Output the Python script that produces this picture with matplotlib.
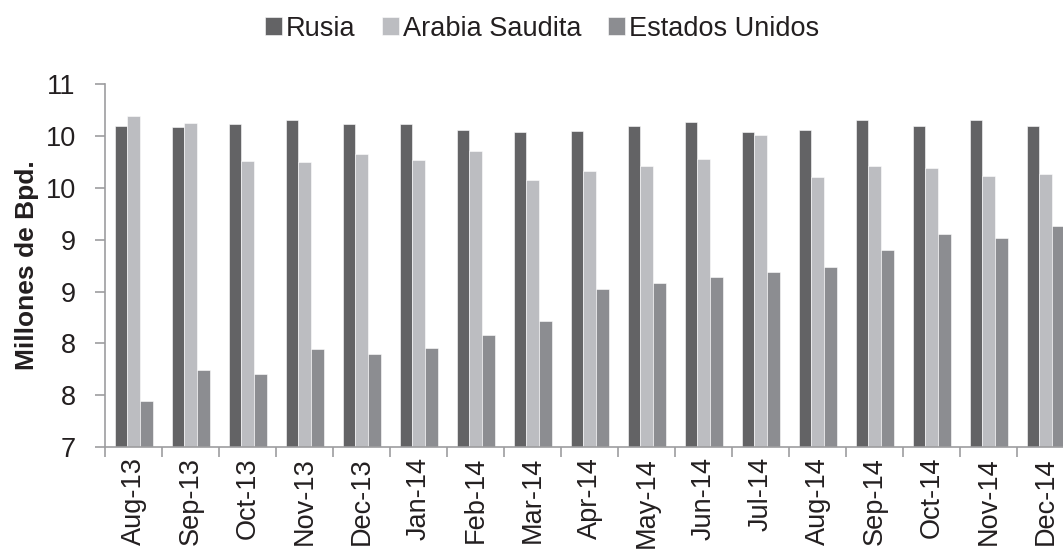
"""Producción de crudo: Rusia, Arabia Saudita y Estados Unidos (Aug-13 a Dec-14)."""

import matplotlib

matplotlib.use("Agg")
import matplotlib.pyplot as plt  # noqa: E402
import numpy as np  # noqa: E402

plt.rcParams["font.family"] = ["Liberation Sans", "DejaVu Sans"]

months = ["Aug-13", "Sep-13", "Oct-13", "Nov-13", "Dec-13", "Jan-14", "Feb-14",
          "Mar-14", "Apr-14", "May-14", "Jun-14", "Jul-14", "Aug-14", "Sep-14",
          "Oct-14", "Nov-14", "Dec-14"]
rusia = [10.09, 10.08, 10.11, 10.15, 10.11, 10.11, 10.06, 10.04, 10.05, 10.09,
         10.13, 10.04, 10.06, 10.15, 10.09, 10.15, 10.09]
arabia = [10.19, 10.12, 9.76, 9.75, 9.82, 9.77, 9.85, 9.57, 9.66, 9.71,
          9.78, 10.01, 9.60, 9.71, 9.69, 9.61, 9.63]
eeuu = [7.45, 7.74, 7.71, 7.95, 7.90, 7.96, 8.08, 8.22, 8.52, 8.58,
        8.64, 8.69, 8.74, 8.90, 9.05, 9.02, 9.13]
series = [("Rusia", rusia, "#636365"),
          ("Arabia Saudita", arabia, "#bcbdc1"),
          ("Estados Unidos", eeuu, "#8c8d91")]
yticks = [7, 7.5, 8, 8.5, 9, 9.5, 10, 10.5]
ytick_labels = ["7", "8", "8", "9", "9", "10", "10", "11"]

txt = "#231f20"
axc = "#9d9d9f"
fs = 19.5

fig = plt.figure(figsize=(10.63, 5.49), dpi=100)
ax = fig.add_axes([0.0988, 0.1852, 0.9116, 0.662])

x = np.arange(len(months))
w = 0.222
for i, (name, vals, col) in enumerate(series):
    ax.bar(x + (i - 1) * w, np.array(vals) - 7, bottom=7, width=w, color=col,
           edgecolor="white", linewidth=0.4, label=name)

ax.set_xlim(-0.5, len(months) - 0.5)
ax.set_ylim(7, 10.5)
ax.set_yticks(yticks)
ax.set_yticklabels(ytick_labels, fontsize=fs, color=txt)
ax.set_xticks(x)
ax.set_xticklabels(months, rotation=90, fontsize=fs, color=txt)
ax.set_xticks(np.arange(len(months) + 1) - 0.5, minor=True)
ax.tick_params(axis="x", which="major", length=0, pad=7)
ax.tick_params(axis="x", which="minor", length=7, color=axc, width=1.2)
ax.tick_params(axis="y", length=7, color=axc, width=1.2, pad=14)

for s in ("top", "right"):
    ax.spines[s].set_visible(False)
for s in ("left", "bottom"):
    ax.spines[s].set_color(axc)
    ax.spines[s].set_linewidth(1.2)

ax.set_ylabel("Millones de Bpd.", fontsize=19, fontweight="bold", color=txt,
              labelpad=5)

fig.legend(loc="center", bbox_to_anchor=(0.51, 0.948), ncol=3, frameon=False,
           fontsize=fs, handlelength=0.6, handleheight=0.6, handletextpad=0.15,
           columnspacing=1.0, labelcolor=txt)

fig.savefig("out.png", dpi=100)
